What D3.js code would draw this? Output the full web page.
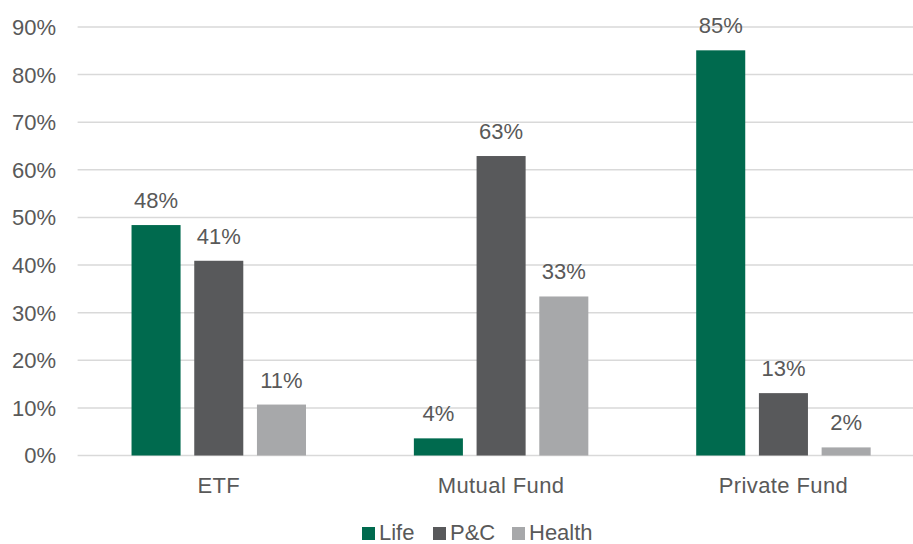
<!DOCTYPE html>
<html><head><meta charset="utf-8">
<script src="https://cdn.jsdelivr.net/npm/d3@7"></script>
<style>body{margin:0;background:#fff}svg{display:block}text{font-family:"Liberation Sans",Arial,sans-serif;fill:#595959}</style>
</head><body>
<script>
const categories = ["ETF", "Mutual Fund", "Private Fund"];
const seriesNames = ["Life", "P&C", "Health"];
const life = [48.4, 3.6, 85.1];
const pc = [40.9, 62.9, 13.1];
const health = [10.7, 33.4, 1.7];
const labels = [["48%","41%","11%"],["4%","63%","33%"],["85%","13%","2%"]];
const colors = ["#006A4E", "#58595B", "#A7A8AA"];
const yTicks = [0,10,20,30,40,50,60,70,80,90];

const W = 913, H = 544;
const FS = 22;
const svg = d3.select("body").append("svg").attr("width", W).attr("height", H);
const values = [life, pc, health];

const y = d3.scaleLinear().domain([0, 90]).range([455.5, 27]);
const x0 = d3.scaleBand().domain(categories).range([77.6, 924.6]).padding(0);
const x1 = d3.scaleBand().domain(seriesNames).range([0, x0.bandwidth()]).paddingInner(0.218).paddingOuter(0.86);

// gridlines
svg.append("g").selectAll("line").data(yTicks).join("line")
  .attr("x1", 77.6).attr("x2", W).attr("y1", d => y(d)).attr("y2", d => y(d))
  .attr("stroke", "#d9d9d9").attr("stroke-width", 1.5);

// y labels
svg.append("g").selectAll("text").data(yTicks).join("text")
  .attr("x", 56).attr("y", d => y(d)).attr("dy", "0.36em")
  .attr("text-anchor", "end").attr("font-size", FS).text(d => d + "%");

// bars
const data = [];
categories.forEach((c, i) => seriesNames.forEach((s, j) => data.push({c, s, v: values[j][i], lab: labels[i][j], color: colors[j]})));
svg.append("g").selectAll("rect").data(data).join("rect")
  .attr("x", d => x0(d.c) + x1(d.s)).attr("width", x1.bandwidth())
  .attr("y", d => y(d.v)).attr("height", d => y(0) - y(d.v))
  .attr("fill", d => d.color);

svg.append("g").selectAll("text").data(data).join("text")
  .attr("x", d => x0(d.c) + x1(d.s) + x1.bandwidth() / 2)
  .attr("y", d => y(d.v) - 17)
  .attr("text-anchor", "middle").attr("font-size", FS).text(d => d.lab);

// x labels
svg.append("g").selectAll("text").data(categories).join("text")
  .attr("x", d => x0(d) + x0.bandwidth() / 2).attr("y", 493)
  .attr("text-anchor", "middle").attr("font-size", FS).attr("letter-spacing", 0.4).text(d => d);

// legend
const legX = [362, 433, 512];
const lg = svg.append("g").selectAll("g").data(seriesNames).join("g")
  .attr("transform", (d, i) => `translate(${legX[i]},0)`);
lg.append("rect").attr("x", 0).attr("y", 527).attr("width", 13).attr("height", 13)
  .attr("fill", (d, i) => colors[i]);
lg.append("text").attr("x", 17).attr("y", 539.5).attr("font-size", FS).text(d => d);
</script>
</body></html>
